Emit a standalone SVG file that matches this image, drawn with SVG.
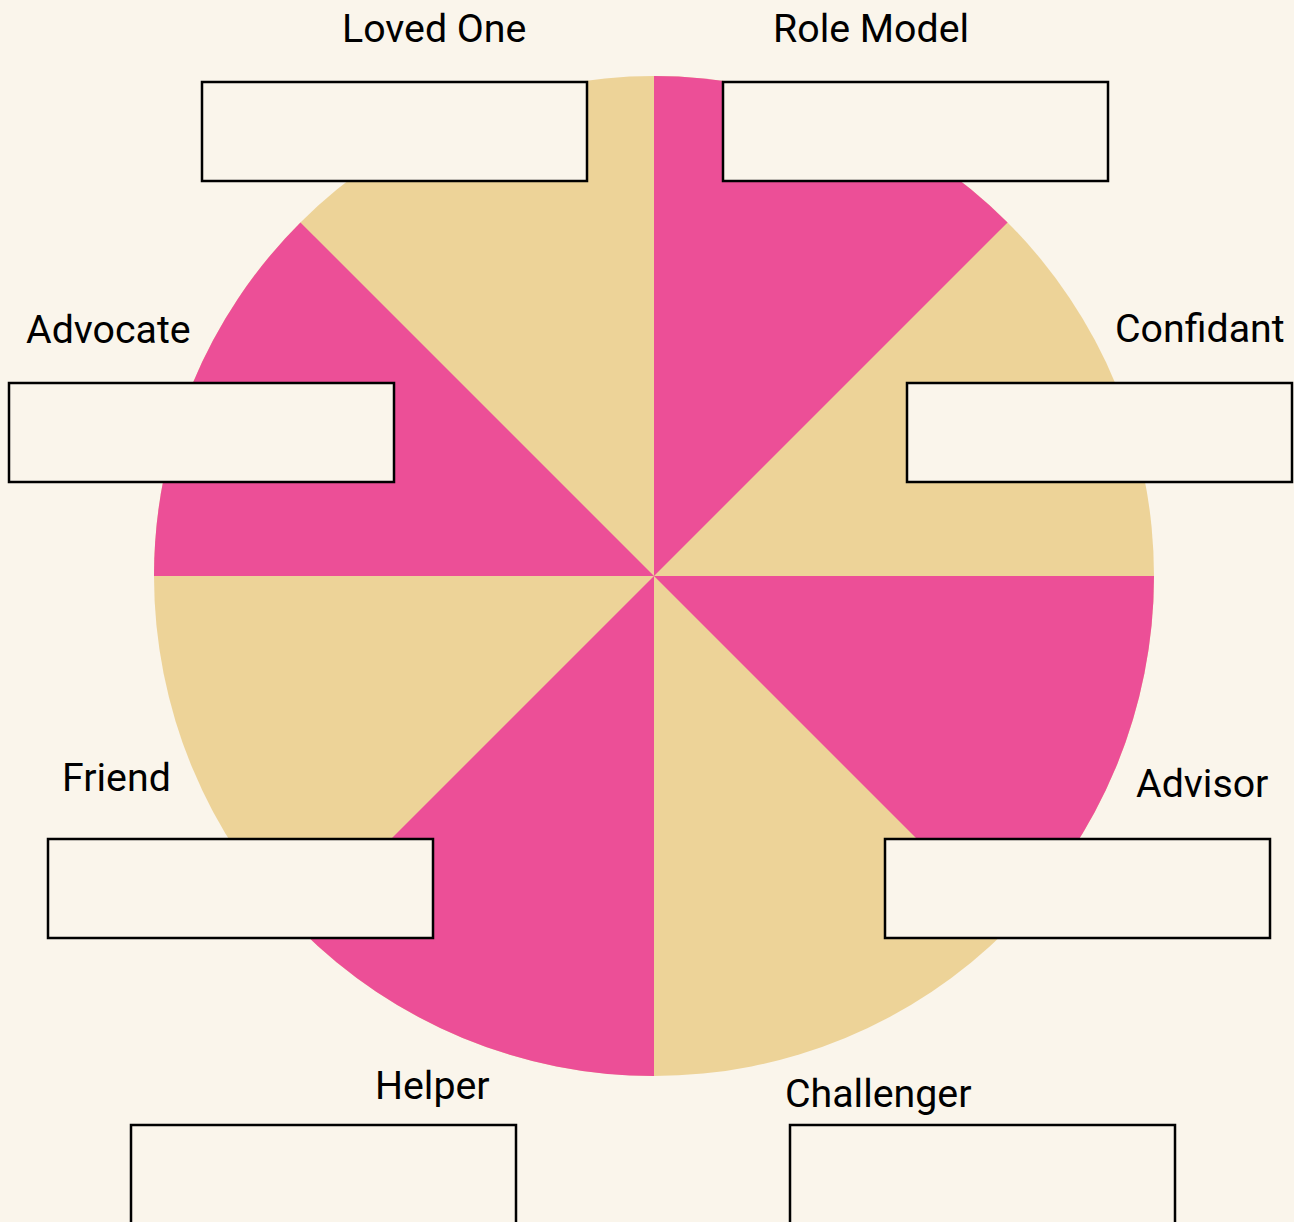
<svg xmlns="http://www.w3.org/2000/svg" width="1294" height="1222" viewBox="0 0 1294 1222">
<style>
.bg{fill:#FAF5EB}
.tan{fill:#EDD398}
.pink{fill:#EC4F97}
.box{fill:#FAF5EB;stroke:#000;stroke-width:2.5}
.lbl{font-family:Roboto,"Liberation Sans",sans-serif;font-size:39.3px;fill:#000}
</style>
<rect class="bg" x="0" y="0" width="1294" height="1222"/>
<g id="wheel">
<circle class="tan" cx="654" cy="576" r="500"/>
<path class="pink" d="M654 576 L654 76 A500 500 0 0 1 1007.55 222.45 Z"/>
<path class="pink" d="M654 576 L1154 576 A500 500 0 0 1 1007.55 929.55 Z"/>
<path class="pink" d="M654 576 L654 1076 A500 500 0 0 1 300.45 929.55 Z"/>
<path class="pink" d="M654 576 L154 576 A500 500 0 0 1 300.45 222.45 Z"/>
</g>
<g id="connectors"></g>
<g id="loved-one">
<text class="lbl" x="342" y="42">Loved One</text>
<rect class="box" x="202" y="82" width="385" height="99"/>
</g>
<g id="role-model">
<text class="lbl" x="773" y="42">Role Model</text>
<rect class="box" x="723" y="82" width="385" height="99"/>
</g>
<g id="advocate">
<text class="lbl" x="26" y="343">Advocate</text>
<rect class="box" x="9" y="383" width="385" height="99"/>
</g>
<g id="confidant">
<text class="lbl" x="1115" y="342">Confidant</text>
<rect class="box" x="907" y="383" width="385" height="99"/>
</g>
<g id="friend">
<text class="lbl" x="62" y="791">Friend</text>
<rect class="box" x="48" y="839" width="385" height="99"/>
</g>
<g id="advisor">
<text class="lbl" x="1136" y="797">Advisor</text>
<rect class="box" x="885" y="839" width="385" height="99"/>
</g>
<g id="helper">
<text class="lbl" x="375" y="1099">Helper</text>
<rect class="box" x="131" y="1125" width="385" height="110"/>
</g>
<g id="challenger">
<text class="lbl" x="785" y="1107">Challenger</text>
<rect class="box" x="790" y="1125" width="385" height="110"/>
</g>
</svg>
